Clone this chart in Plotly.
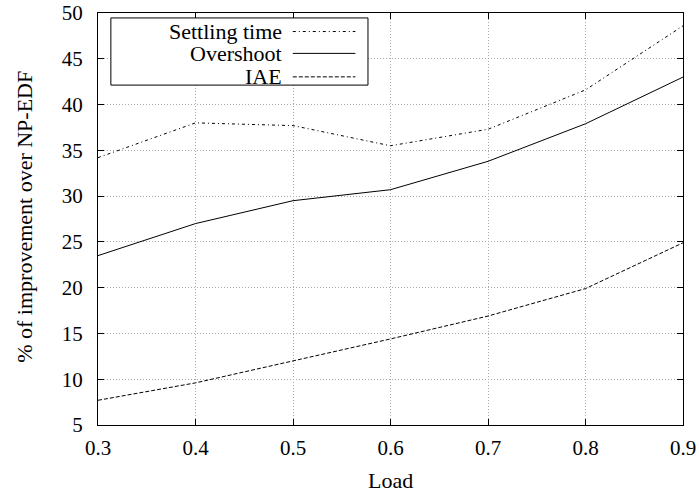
import plotly.graph_objects as go

load = [0.3, 0.4, 0.5, 0.6, 0.7, 0.8, 0.9]
settling_time = [34.2, 38.0, 37.7, 35.5, 37.3, 41.6, 48.6]
overshoot = [23.5, 27.0, 29.5, 30.7, 33.8, 37.9, 43.0]
iae = [7.7, 9.6, 12.0, 14.4, 16.9, 19.9, 24.9]

x_ticks = [0.3, 0.4, 0.5, 0.6, 0.7, 0.8, 0.9]
y_ticks = [5, 10, 15, 20, 25, 30, 35, 40, 45, 50]

series = [
    ("Settling time", settling_time, "3px,3px,1px,3px"),
    ("Overshoot", overshoot, "solid"),
    ("IAE", iae, "4px,2px"),
]

FONT = "Liberation Serif"
FS_TICK = 21
FS = 22
fig = go.Figure()
for name, vals, dash in series:
    fig.add_trace(go.Scatter(x=load, y=vals, mode="lines", name=name,
                             line=dict(color="black", width=1, dash=dash),
                             showlegend=False))

# custom gnuplot-like legend (paper coords)
shapes = [dict(type="rect", xref="paper", yref="paper", x0=0.022, x1=0.4615,
               y0=0.825, y1=0.988, line=dict(color="black", width=1),
               fillcolor="white", layer="above")]
annotations = []
rows = [0.955, 0.902, 0.845]
for (name, vals, dash), yy in zip(series, rows):
    annotations.append(dict(xref="paper", yref="paper", x=0.318, y=yy, text=name,
                            showarrow=False, xanchor="right", yanchor="middle",
                            font=dict(family=FONT, size=FS, color="black")))
    shapes.append(dict(type="line", xref="paper", yref="paper", x0=0.333, x1=0.44,
                       y0=yy, y1=yy, line=dict(color="black", width=1, dash=dash),
                       layer="above"))

# axis titles
annotations.append(dict(xref="paper", yref="paper", x=0.5, y=-0.135, text="Load",
                        showarrow=False, xanchor="center", yanchor="middle",
                        font=dict(family=FONT, size=FS, color="black")))
annotations.append(dict(xref="paper", yref="paper", x=-0.125, y=0.505,
                        text="% of improvement over NP-EDF", textangle=-90,
                        showarrow=False, xanchor="center", yanchor="middle",
                        font=dict(family=FONT, size=FS, color="black")))

axis_common = dict(showline=True, linecolor="black", linewidth=1, mirror="allticks",
                   ticks="inside", ticklen=6, tickcolor="black", tickwidth=1,
                   showgrid=True, gridcolor="#aaaaaa", griddash="1px,2px", gridwidth=1,
                   zeroline=False, automargin=False,
                   tickfont=dict(family=FONT, size=FS_TICK, color="black"))

fig.update_layout(
    width=699, height=492,
    margin=dict(l=98, r=16, t=13, b=67),
    paper_bgcolor="white", plot_bgcolor="white",
    xaxis=dict(range=[0.3, 0.9], tickvals=x_ticks, ticktext=[str(v) for v in x_ticks],
               ticklabelstandoff=4, **axis_common),
    yaxis=dict(range=[5, 50], tickvals=y_ticks, ticklabelstandoff=10, **axis_common),
    shapes=shapes, annotations=annotations,
)
fig.write_html("out.html", config={"displayModeBar": False},
               post_script="document.body.style.margin='0';document.body.style.overflow='hidden';")
